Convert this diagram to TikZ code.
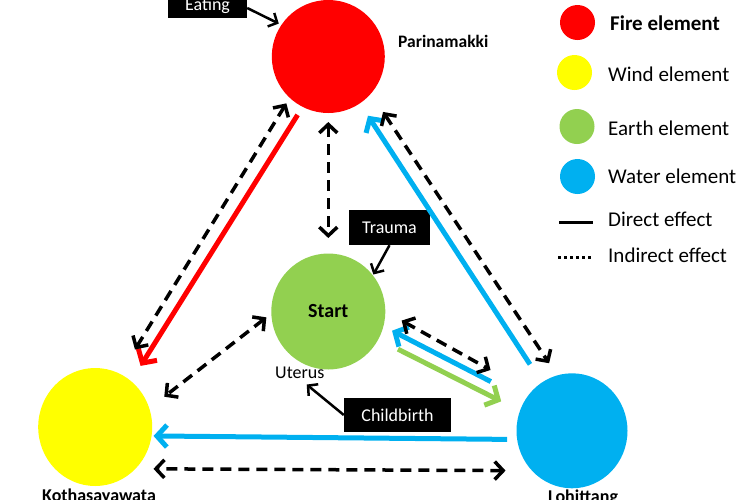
\documentclass[tikz,border=0pt]{standalone}
\usepackage{fontspec}
\setmainfont{Carlito}
\usetikzlibrary{arrows.meta,shapes.geometric}
\definecolor{fireC}{HTML}{FF0000}
\definecolor{windC}{HTML}{FFFF00}
\definecolor{earthC}{HTML}{92D050}
\definecolor{waterC}{HTML}{00B0F0}
\begin{document}
\begin{tikzpicture}[x=1pt,y=-1pt,
  elem/.style={ellipse, inner sep=0pt, outer sep=0pt},
  dirarrow/.style={line width=5pt, -{Straight Barb[length=10pt,width=22pt]}},
  indarrow/.style={line width=3.5pt, dash pattern=on 11pt off 7pt,
     {Straight Barb[length=8.5pt,width=18pt]}-{Straight Barb[length=8.5pt,width=18pt]}},
  blkarrow/.style={line width=2.5pt, -{Straight Barb[length=7pt,width=15pt]}},
  tagbox/.style={fill=black, text=white, font=\fontsize{18}{20}\selectfont,
     text height=12pt, text depth=0pt, inner xsep=4pt, inner ysep=11.5pt},
  elabel/.style={font=\fontsize{18}{20}\selectfont\bfseries, anchor=base west, inner sep=0pt},
  legtext/.style={font=\fontsize{21}{24}\selectfont, anchor=base west, inner sep=0pt},
  legdot/.style={circle, minimum size=35pt, inner sep=0pt}
]
\useasboundingbox (0,0) rectangle (750,499);

% element nodes
\node[elem, fill=fireC, minimum width=113pt, minimum height=113pt] (fire) at (328.3,56.5) {};
\node[elem, fill=earthC, minimum width=114pt, minimum height=116pt,
      font=\fontsize{20}{22}\selectfont\bfseries] (earth) at (328.3,311.5) {Start};
\node[elem, fill=windC, minimum width=114pt, minimum height=118pt] (wind) at (95.2,427) {};
\node[elem, fill=waterC, minimum width=111pt, minimum height=115pt] (water) at (572,430.8) {};

% labels
\node[elabel, font=\fontsize{17.5}{20}\selectfont\bfseries] (parinamakki) at (398,47.7) {Parinamakki};
\node[elabel] (kotha) at (42,501.6) {Kothasayawata};
\node[elabel] (lohit) at (548,502.6) {Lohittang};
\node[font=\fontsize{18}{20}\selectfont, anchor=base west, inner sep=0pt] (uterus) at (275,378.5) {Uterus};

% black tag boxes
\node[tagbox, minimum width=79pt, anchor=base, text height=25pt, text depth=4pt, inner ysep=3pt] (eating) at (207.5,10.5) {Eating};
\node[tagbox, minimum width=81pt] (trauma) at (389.5,227.5) {Trauma};
\node[tagbox, minimum width=107pt, inner ysep=11pt] (childbirth) at (397.5,415) {Childbirth};

% direct effects
\draw[dirarrow, fireC, shorten <=9.5pt, shorten >=18pt] (fire.243) -- (wind.52);
\draw[dirarrow, waterC, shorten <=21.7pt, shorten >=14.8pt] (water.122) -- (fire.304);
\draw[dirarrow, waterC, shorten <=39pt, shorten >=9.7pt] (water.146) -- (earth.345);
\draw[dirarrow, earthC, shorten <=22pt, shorten >=21pt] (earth.331) -- (water.159);
\draw[dirarrow, waterC, shorten <=10pt, shorten >=2pt] (water.189) -- (wind.351);

% indirect effects
\draw[indarrow, shorten <=6.5pt, shorten >=28.6pt] (fire.227) -- (wind.65);
\draw[indarrow, shorten <=9pt, shorten >=15.5pt] (fire.south) -- (earth.north);
\draw[indarrow, shorten <=6.3pt, shorten >=19pt] (earth.182) -- (wind.19);
\draw[indarrow, shorten <=18.7pt, shorten >=46pt] (earth.east) -- (water.137);
\draw[indarrow, shorten <=22pt, shorten >=14.6pt] (fire.319) -- (water.105);
\draw[indarrow, shorten <=26.5pt, shorten >=18pt] (water.225) -- (wind.314);

% tag arrows
\draw[blkarrow, shorten >=3pt] ([yshift=-8pt]eating.east) -- (fire.146);
\draw[blkarrow, shorten >=1pt] (trauma.south) -- (earth.39);
\draw[blkarrow, shorten >=9pt] (childbirth.west) -- (uterus.south);

% legend
\node[legdot, fill=fireC] (lfire) at (577.5,22.5) {};
\node[legdot, fill=windC] (lwind) at (574.5,72.5) {};
\node[legdot, fill=earthC] (learth) at (577,126.5) {};
\node[legdot, fill=waterC] (lwater) at (577.5,176.5) {};
\node[legtext, font=\fontsize{21}{24}\selectfont\bfseries] (tfire) at (610,30.3) {Fire element};
\node[legtext] (twind) at (608,81.8) {Wind element};
\node[legtext] (tearth) at (608,135.3) {Earth element};
\node[legtext] (twater) at (608,183.3) {Water element};
\node[legtext] (tdirect) at (608,226.8) {Direct effect};
\node[legtext] (tindirect) at (608,262.3) {Indirect effect};
\draw[line width=3pt] (559,222) -- (593,222);
\draw[line width=3pt, dash pattern=on 3pt off 3pt] (558,257) -- (592,257);
\end{tikzpicture}
\end{document}
